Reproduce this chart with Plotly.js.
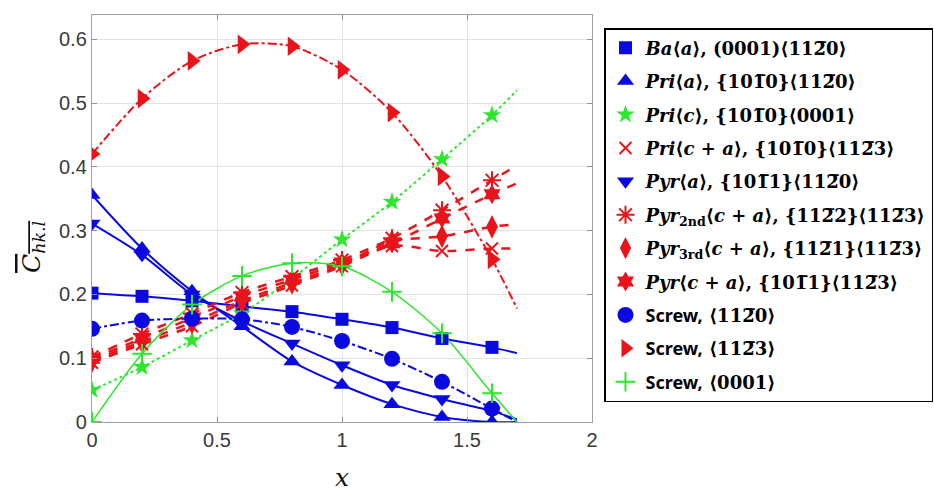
<!DOCTYPE html>
<html>
<head>
<meta charset="utf-8">
<script src="https://cdn.plot.ly/plotly-3.0.1.min.js"></script>
<style>
  html, body { margin: 0; padding: 0; background: #fff; }
  #chart { width: 934px; height: 495px; }
</style>
</head>
<body>
<div id="chart"></div>
<script>
// Sampled positions and the end point of each fitted curve
const xPts = [0, 0.2, 0.4, 0.6, 0.8, 1.0, 1.2, 1.4, 1.6];
const xEnd = 1.7;

// Average coefficient per slip system (marker values, then curve end value)
const baA     = [0.202, 0.197, 0.190, 0.181, 0.173, 0.161, 0.148, 0.131, 0.117];
const baAEnd  = 0.108;
const priA    = [0.356, 0.272, 0.205, 0.150, 0.095, 0.058, 0.028, 0.008, 0.000];
const priAEnd = 0.000;
const priC    = [0.050, 0.086, 0.128, 0.170, 0.225, 0.286, 0.345, 0.412, 0.481];
const priCEnd = 0.520;
const priCA   = [0.093, 0.122, 0.150, 0.186, 0.214, 0.244, 0.276, 0.268, 0.272];
const priCAEnd = 0.272;
const pyrA    = [0.311, 0.262, 0.200, 0.158, 0.123, 0.089, 0.058, 0.036, 0.017];
const pyrAEnd = 0.004;
const pyr2CA  = [0.102, 0.138, 0.170, 0.203, 0.228, 0.254, 0.288, 0.332, 0.379];
const pyr2CAEnd = 0.402;
const pyr3CA  = [0.096, 0.126, 0.156, 0.190, 0.218, 0.247, 0.283, 0.291, 0.306];
const pyr3CAEnd = 0.310;
const pyrCA   = [0.099, 0.131, 0.163, 0.197, 0.223, 0.250, 0.280, 0.319, 0.357];
const pyrCAEnd = 0.374;
const screwA  = [0.146, 0.159, 0.162, 0.161, 0.149, 0.127, 0.099, 0.063, 0.021];
const screwAEnd = 0.000;
const screwCA = [0.420, 0.507, 0.566, 0.592, 0.589, 0.552, 0.485, 0.385, 0.255];
const screwCAEnd = 0.178;
const screwC  = [0.000, 0.107, 0.184, 0.229, 0.249, 0.244, 0.204, 0.139, 0.045];
const screwCEnd = 0.000;

const xTicks = [0, 0.5, 1, 1.5, 2];
const xTickText = ['0', '0.5', '1', '1.5', '2'];
const yTicks = [0, 0.1, 0.2, 0.3, 0.4, 0.5, 0.6];
const yTickText = ['0', '0.1', '0.2', '0.3', '0.4', '0.5', '0.6'];

const BAR = '\u0305';
const LA = '\u27E8', RA = '\u27E9';
const SANS = '<span style="font-family:\'Noto Sans\',\'Open Sans\',sans-serif">';

const legendNames = [
  '<b><i>Ba</i>' + LA + '<i>a</i>' + RA + ', (0001)' + LA + '112' + BAR + '0' + RA + '</b>',
  '<b><i>Pri</i>' + LA + '<i>a</i>' + RA + ', {101' + BAR + '0}' + LA + '112' + BAR + '0' + RA + '</b>',
  '<b><i>Pri</i>' + LA + '<i>c</i>' + RA + ', {101' + BAR + '0}' + LA + '0001' + RA + '</b>',
  '<b><i>Pri</i>' + LA + '<i>c</i> + <i>a</i>' + RA + ', {101' + BAR + '0}' + LA + '112' + BAR + '3' + RA + '</b>',
  '<b><i>Pyr</i>' + LA + '<i>a</i>' + RA + ', {101' + BAR + '1}' + LA + '112' + BAR + '0' + RA + '</b>',
  '<b><i>Pyr</i><sub>2nd</sub>' + LA + '<i>c</i> + <i>a</i>' + RA + ', {112' + BAR + '2}' + LA + '112' + BAR + '3' + RA + '</b>',
  '<b><i>Pyr</i><sub>3rd</sub>' + LA + '<i>c</i> + <i>a</i>' + RA + ', {112' + BAR + '1}' + LA + '112' + BAR + '3' + RA + '</b>',
  '<b><i>Pyr</i>' + LA + '<i>c</i> + <i>a</i>' + RA + ', {101' + BAR + '1}' + LA + '112' + BAR + '3' + RA + '</b>',
  '<b>' + SANS + 'Screw,</span> ' + LA + '112' + BAR + '0' + RA + '</b>',
  '<b>' + SANS + 'Screw,</span> ' + LA + '112' + BAR + '3' + RA + '</b>',
  '<b>' + SANS + 'Screw,</span> ' + LA + '0001' + RA + '</b>'
];

const BLUE = '#0a0ae0';
const RED = '#e8141a';
const GREEN = '#2ee62e';

const series = [
  { y: baA,     yEnd: baAEnd,     color: BLUE,  dash: 'solid',   symbol: 'square',        size: 13, width: 2 },
  { y: priA,    yEnd: priAEnd,    color: BLUE,  dash: 'solid',   symbol: 'triangle-up',   size: 15, width: 2 },
  { y: priC,    yEnd: priCEnd,    color: GREEN, dash: 'dot',     symbol: 'star',          size: 14, width: 2 },
  { y: priCA,   yEnd: priCAEnd,   color: RED,   dash: 'dash',    symbol: 'x-thin-open',   size: 12, width: 2.5 },
  { y: pyrA,    yEnd: pyrAEnd,    color: BLUE,  dash: 'solid',   symbol: 'triangle-down', size: 15, width: 2 },
  { y: pyr2CA,  yEnd: pyr2CAEnd,  color: RED,   dash: 'dash',    symbol: 'asterisk-open', size: 15, width: 2.5 },
  { y: pyr3CA,  yEnd: pyr3CAEnd,  color: RED,   dash: 'dash',    symbol: 'diamond-tall',  size: 17, width: 2.5 },
  { y: pyrCA,   yEnd: pyrCAEnd,   color: RED,   dash: 'dash',    symbol: 'hexagram',      size: 15, width: 2.5 },
  { y: screwA,  yEnd: screwAEnd,  color: BLUE,  dash: 'dashdot', symbol: 'circle',        size: 16, width: 2 },
  { y: screwCA, yEnd: screwCAEnd, color: RED,   dash: 'dashdot', symbol: 'triangle-right',size: 17, width: 2 },
  { y: screwC,  yEnd: screwCEnd,  color: GREEN, dash: 'solid',   symbol: 'cross-thin-open', size: 14, width: 1.5 }
];

const traces = [];
// fitted curves (no legend entry)
series.forEach((s) => {
  traces.push({
    type: 'scatter', mode: 'lines',
    x: xPts.concat([xEnd]), y: s.y.concat([s.yEnd]),
    line: { color: s.color, width: s.width, dash: s.dash, shape: 'spline', smoothing: 0.8 },
    showlegend: false, hoverinfo: 'skip'
  });
});
// markers with legend entries
series.forEach((s, i) => {
  const open = s.symbol.indexOf('open') >= 0;
  traces.push({
    type: 'scatter', mode: 'markers',
    x: xPts, y: s.y,
    name: legendNames[i],
    legendgroup: 'g' + i,
    marker: {
      symbol: s.symbol, size: s.size, color: s.color,
      line: { color: s.color, width: open ? 2 : 0 }
    }
  });
});

const axisCommon = {
  showline: true, mirror: 'ticks', linecolor: '#a0a0a0', linewidth: 1.2,
  ticks: 'inside', ticklen: 5, tickcolor: '#909090',
  showgrid: true, gridcolor: '#e3e3e3', gridwidth: 1,
  zeroline: false,
  tickfont: { family: 'Liberation Sans, Arial, sans-serif', size: 20, color: '#3a3a3a' }
};

const layout = {
  width: 934, height: 495,
  paper_bgcolor: '#ffffff', plot_bgcolor: '#ffffff',
  margin: { l: 91.5, r: 342, t: 15, b: 73, autoexpand: false },
  showlegend: true,
  xaxis: Object.assign({}, axisCommon, {
    range: [0, 2], tickvals: xTicks, ticktext: xTickText,
    title: { text: '<i>x</i>', font: { family: 'DejaVu Serif, serif', size: 25, color: '#111' }, standoff: 18 }
  }),
  yaxis: Object.assign({}, axisCommon, {
    range: [0, 0.638], tickvals: yTicks, ticktext: yTickText
  }),
  annotations: [{
    xref: 'paper', yref: 'paper', x: -0.118, y: 0.43,
    xanchor: 'center', yanchor: 'middle', textangle: -90, showarrow: false,
    text: '<span style="text-decoration:overline"><i>C</i><sub><i>hk.l</i></sub></span>',
    font: { family: 'DejaVu Serif, serif', size: 25, color: '#111' }
  }],
  legend: {
    x: 1.024, xanchor: 'left', y: 0.968, yanchor: 'top',
    bgcolor: '#ffffff', bordercolor: '#000000', borderwidth: 1.5,
    font: { family: 'DejaVu Serif, serif', size: 18, color: '#000' },
    tracegroupgap: 7, itemwidth: 30
  }
};

Plotly.newPlot('chart', traces, layout, { displayModeBar: false, staticPlot: true });
</script>
</body>
</html>
